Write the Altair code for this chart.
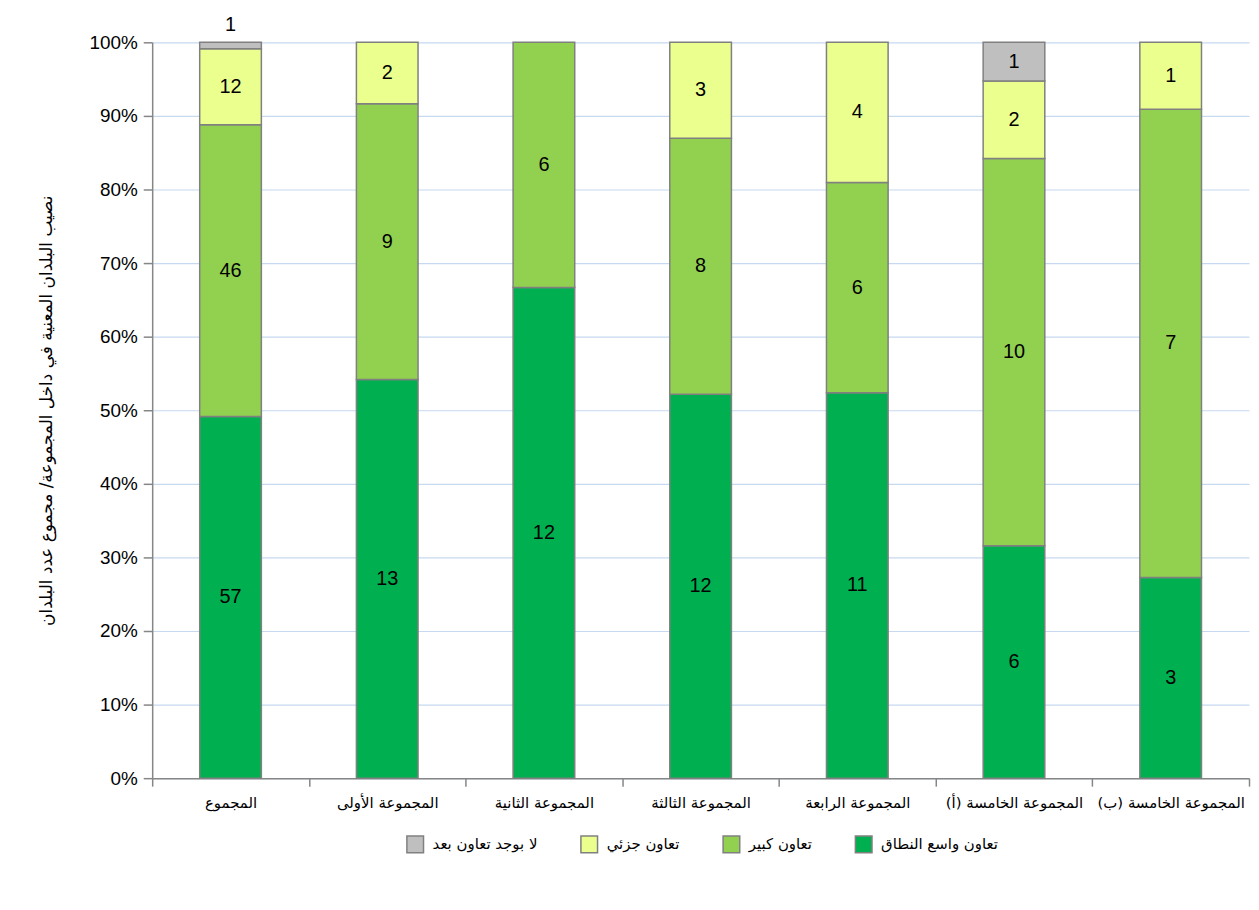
import altair as alt
import pandas as pd

groups = ["المجموع", "المجموعة الأولى", "المجموعة الثانية", "المجموعة الثالثة",
          "المجموعة الرابعة", "المجموعة الخامسة (أ)", "المجموعة الخامسة (ب)"]
categories = ["تعاون واسع النطاق", "تعاون كبير", "تعاون جزئي", "لا بوجد تعاون بعد"]
wide = [57, 13, 12, 12, 11, 6, 3]
large = [46, 9, 6, 8, 6, 10, 7]
partial = [12, 2, 0, 3, 4, 2, 1]
none_yet = [1, 0, 0, 0, 0, 1, 0]

series = [wide, large, partial, none_yet]
rows = []
for ci, (cat, vals) in enumerate(zip(categories, series)):
    for g, v in zip(groups, vals):
        rows.append({"group": g, "cat": cat, "order": ci, "count": v})
df = pd.DataFrame(rows)

legend_order = ["لا بوجد تعاون بعد", "تعاون جزئي", "تعاون كبير", "تعاون واسع النطاق"]
legend_colors = ["#BFBFBF", "#EBFF8E", "#92D050", "#00B050"]

base = alt.Chart(df).transform_filter("datum.count > 0").transform_stack(
    stack="count", groupby=["group"], as_=["y0", "y1"], offset="normalize",
    sort=[alt.SortField("order", order="ascending")]
).transform_calculate(
    mid="(datum.y0 + datum.y1) / 2", frac="datum.y1 - datum.y0"
)

xenc = alt.X("group:N", sort=groups, title=None,
             scale=alt.Scale(paddingInner=0, paddingOuter=0),
             axis=alt.Axis(labelAngle=0, labelFont="DejaVu Sans", labelFontSize=15,
                           labelColor="#000000", labelPadding=9, tickBand="extent",
                           tickSize=8, tickColor="#868686", domainColor="#868686",
                           domainWidth=1.5, tickWidth=1.5))

bars = base.mark_bar(stroke="#808080", strokeWidth=1.5, size=62).encode(
    x=xenc,
    y=alt.Y("y0:Q", scale=alt.Scale(domain=[0, 1], nice=False),
            title="نصيب البلدان المعنية في داخل المجموعة/ مجموع عدد البلدان",
            axis=alt.Axis(format="%", values=[i / 10 for i in range(11)],
                          labelFont="Liberation Sans", labelFontSize=19, labelColor="#000000",
                          labelPadding=6, tickSize=9, tickColor="#868686",
                          domainColor="#868686", domainWidth=1.5, tickWidth=1.5,
                          gridColor="#C6D9F1", gridWidth=1.2,
                          titleFont="DejaVu Sans", titleFontSize=17, titleFontWeight="normal",
                          titleColor="#000000", titlePadding=34)),
    y2="y1:Q",
    color=alt.Color("cat:N", scale=alt.Scale(domain=legend_order, range=legend_colors),
                    title=None,
                    legend=alt.Legend(orient="none", direction="horizontal",
                                      legendX=255, legendY=797,
                                      symbolType="square", symbolSize=280,
                                      symbolStrokeColor="#808080", symbolStrokeWidth=1.5,
                                      labelFont="DejaVu Sans", labelFontSize=15,
                                      labelColor="#000000", columnPadding=40,
                                      labelOffset=8, labelLimit=300)),
    order=alt.Order("order:Q"),
)

labels_in = base.transform_filter("datum.frac >= 0.03").mark_text(
    font="Liberation Sans", fontSize=20, color="#000000"
).encode(x=alt.X("group:N", sort=groups), y="mid:Q", text="count:Q")

labels_out = base.transform_filter("datum.frac < 0.03").mark_text(
    font="Liberation Sans", fontSize=20, color="#000000", dy=-17
).encode(x=alt.X("group:N", sort=groups), y="y1:Q", text="count:Q")

chart = alt.layer(bars, labels_in, labels_out).properties(
    width=1103, height=740,
    autosize=alt.AutoSizeParams(type="none"),
    padding={"left": 145, "top": 32, "right": 2, "bottom": 120},
).configure_view(stroke=None)

chart.save("out.html", embed_options={"renderer": "svg", "actions": False})
